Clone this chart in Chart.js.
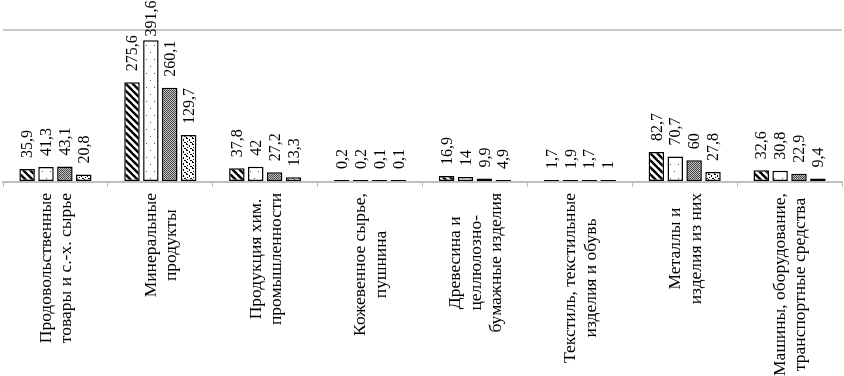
<!DOCTYPE html>
<html>
<head>
<meta charset="utf-8">
<script src="https://cdn.jsdelivr.net/npm/chart.js@4.4.1/dist/chart.umd.min.js"></script>
<style>
  body { margin: 0; background: #fff; }
  #wrap { width: 844px; height: 376px; }
</style>
</head>
<body>
<div id="wrap"><canvas id="exportChart" width="844" height="376"></canvas></div>
<script>
// Categories (multi-line, as in the original)
const categories = [
  ['Продовольственные', 'товары и с.-х. сырье'],
  ['Минеральные', 'продукты'],
  ['Продукция хим.', 'промышленности'],
  ['Кожевенное сырье,', 'пушнина'],
  ['Древесина и', 'целлюлозно-', 'бумажные изделия'],
  ['Текстиль, текстильные', 'изделия и обувь'],
  ['Металлы и', 'изделия из них'],
  ['Машины, оборудование,', 'транспортные средства']
];

// Four series
const series1 = [35.9, 275.6, 37.8, 0.2, 16.9, 1.7, 82.7, 32.6];
const series2 = [41.3, 391.6, 42, 0.2, 14, 1.9, 70.7, 30.8];
const series3 = [43.1, 260.1, 27.2, 0.1, 9.9, 1.7, 60, 22.9];
const series4 = [20.8, 129.7, 13.3, 0.1, 4.9, 1, 27.8, 9.4];

const yMax = 420;
const serif = '"Liberation Serif", "Times New Roman", serif';

// small tiles used as bar fills
function makePattern(w, h, draw) {
  const c = document.createElement('canvas');
  c.width = w; c.height = h;
  const g = c.getContext('2d');
  g.fillStyle = '#fff';
  g.fillRect(0, 0, w, h);
  draw(g, w, h);
  return g.createPattern(c, 'repeat');
}

const hatch = makePattern(7, 7, (g, s) => {
  g.strokeStyle = '#000';
  g.lineWidth = 2.4;
  [-s, 0, s].forEach(k => {
    g.beginPath();
    g.moveTo(k - 1, -1);
    g.lineTo(k + s + 1, s + 1);
    g.stroke();
  });
});

const sparseDots = makePattern(8, 14, g => {
  g.fillStyle = '#555';
  g.fillRect(2, 3, 1, 1);
  g.fillRect(6, 10, 1, 1);
});

const stipple = makePattern(4, 4, g => {
  for (let x = 0; x < 4; x++) {
    for (let y = 0; y < 4; y++) {
      g.fillStyle = (x + y) % 2 === 0 ? '#444' : '#c4c4c4';
      g.fillRect(x, y, 1, 1);
    }
  }
});

const confetti = makePattern(6, 6, g => {
  g.fillStyle = '#000';
  g.fillRect(0, 0, 2, 1);
  g.fillRect(3, 1, 1, 2);
  g.fillRect(1, 3, 1, 1);
  g.fillRect(4, 4, 2, 1);
  g.fillRect(0, 5, 1, 1);
});

function fmt(v) {
  return String(v).replace('.', ',');
}

// value labels, rotated, above each bar (kept inside the canvas)
const valueLabels = {
  id: 'valueLabels',
  afterDatasetsDraw(chart) {
    const ctx = chart.ctx;
    ctx.save();
    ctx.font = '16px ' + serif;
    ctx.fillStyle = '#000';
    ctx.textAlign = 'left';
    ctx.textBaseline = 'middle';
    chart.data.datasets.forEach((ds, di) => {
      chart.getDatasetMeta(di).data.forEach((bar, i) => {
        const txt = fmt(ds.data[i]);
        const w = ctx.measureText(txt).width;
        const start = Math.max(bar.y - 11, w + 0.5);
        ctx.save();
        ctx.translate(bar.x + 1, start);
        ctx.rotate(-Math.PI / 2);
        ctx.fillText(txt, 0, 0);
        ctx.restore();
      });
    });
    ctx.restore();
  }
};

// category labels, rotated, lines centred on each other
const categoryLabels = {
  id: 'categoryLabels',
  afterDraw(chart) {
    const ctx = chart.ctx;
    const x = chart.scales.x;
    const lineH = 20.5;
    ctx.save();
    ctx.font = '17.5px ' + serif;
    ctx.fillStyle = '#000';
    ctx.textAlign = 'center';
    ctx.textBaseline = 'middle';
    categories.forEach((lines, i) => {
      const w = Math.max(...lines.map(l => ctx.measureText(l).width));
      ctx.save();
      ctx.translate(x.getPixelForValue(i) + 1, x.top + 11);
      ctx.rotate(-Math.PI / 2);
      lines.forEach((ln, j) => {
        ctx.fillText(ln, -w / 2, (j - (lines.length - 1) / 2) * lineH);
      });
      ctx.restore();
    });
    ctx.restore();
  }
};

const barStyle = {
  borderColor: '#000',
  borderWidth: 1.5,
  borderSkipped: false,
  minBarLength: 2,
  barPercentage: 0.82,
  categoryPercentage: 0.72
};

new Chart(document.getElementById('exportChart'), {
  type: 'bar',
  data: {
    labels: categories.map(c => c.join(' ')),
    datasets: [
      { label: 'Ряд 1', data: series1, backgroundColor: hatch, ...barStyle },
      { label: 'Ряд 2', data: series2, backgroundColor: sparseDots, ...barStyle },
      { label: 'Ряд 3', data: series3, backgroundColor: stipple, ...barStyle },
      { label: 'Ряд 4', data: series4, backgroundColor: confetti, ...barStyle }
    ]
  },
  options: {
    responsive: false,
    animation: false,
    layout: { padding: { top: 30, left: 3, right: 2, bottom: 0 } },
    plugins: {
      legend: { display: false },
      tooltip: { enabled: false }
    },
    scales: {
      x: {
        ticks: { display: false },
        grid: { drawOnChartArea: false, color: '#bfbfbf', lineWidth: 1, tickLength: 5 },
        border: { color: '#bfbfbf', width: 2 },
        afterFit(scale) { scale.height = 194; }
      },
      y: {
        min: 0,
        max: yMax,
        ticks: { display: false, stepSize: yMax },
        grid: {
          drawTicks: false,
          lineWidth: 2,
          color: c => (c.tick && c.tick.value === yMax ? '#c8c8c8' : 'rgba(0,0,0,0)')
        },
        border: { display: false },
        afterFit(scale) { scale.width = 0; }
      }
    }
  },
  plugins: [valueLabels, categoryLabels]
});
</script>
</body>
</html>
